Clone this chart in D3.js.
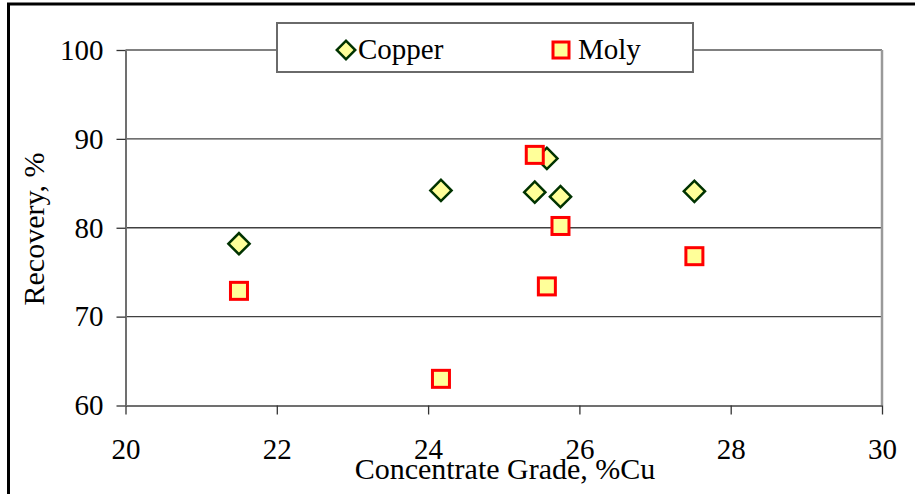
<!DOCTYPE html>
<html>
<head>
<meta charset="utf-8">
<script src="https://cdn.jsdelivr.net/npm/d3@7"></script>
<style>
    body { margin: 0; background: #fff; }
    text { font-family: "Liberation Serif", "Times New Roman", serif; fill: #000; }
</style>
</head>
<body>
<script>
// chart values
var copperGrade = [21.5, 24.17, 25.41, 25.57, 25.75, 27.52];
var copperRecovery = [78.2, 84.2, 84.0, 87.8, 83.5, 84.1];
var molyGrade = [21.5, 24.17, 25.41, 25.57, 25.75, 27.52];
var molyRecovery = [72.9, 63.0, 88.2, 73.4, 80.2, 76.8];
var xTicks = [20, 22, 24, 26, 28, 30];
var yTicks = [60, 70, 80, 90, 100];
var gridTicks = [70, 80, 90];
var legendNames = ["Copper", "Moly"];

var w = 915, h = 494;
var plotL = 125.5, plotR = 882, plotT = 50, plotB = 405.5;

var svg = d3.select("body").append("svg")
    .attr("width", w)
    .attr("height", h);

//Scales
var x_scale = d3.scaleLinear().domain([20, 30]).range([plotL, plotR]);
var y_scale = d3.scaleLinear().domain([60, 100]).range([plotB, plotT]);

//Outer frame
svg.append("rect")
    .attr("x", 8.5).attr("y", 4)
    .attr("width", w + 10).attr("height", h + 10)
    .attr("fill", "none")
    .attr("stroke", "#000")
    .attr("stroke-width", 3);

//Gridlines
svg.append("g").selectAll("line")
    .data(gridTicks)
    .enter().append("line")
    .attr("x1", plotL).attr("x2", plotR)
    .attr("y1", function(d) { return y_scale(d); })
    .attr("y2", function(d) { return y_scale(d); })
    .attr("stroke", "#404040")
    .attr("stroke-width", 1.3);

//Plot border top and right
svg.append("line")
    .attr("x1", plotL).attr("x2", plotR)
    .attr("y1", y_scale(100)).attr("y2", y_scale(100))
    .attr("stroke", "#808080").attr("stroke-width", 2);
svg.append("line")
    .attr("x1", plotR).attr("x2", plotR)
    .attr("y1", y_scale(100)).attr("y2", y_scale(60))
    .attr("stroke", "#9a9a9a").attr("stroke-width", 2.5);

//Axes
var x_axis = d3.axisBottom(x_scale).tickValues(xTicks).tickSize(9).tickSizeOuter(0).tickPadding(24);
var y_axis = d3.axisLeft(y_scale).tickValues(yTicks).tickSize(9).tickSizeOuter(0).tickPadding(13);

var x_group = svg.append("g")
    .attr("transform", "translate(0," + plotB + ")")
    .call(x_axis);
var y_group = svg.append("g")
    .attr("transform", "translate(" + plotL + ",0)")
    .call(y_axis);

[x_group, y_group].forEach(function(g) {
    g.attr("font-size", 29).attr("font-family", "Liberation Serif, Times New Roman, serif");
    g.select(".domain").attr("stroke", "#707070").attr("stroke-width", 2);
    g.selectAll(".tick line").attr("stroke", "#333").attr("stroke-width", 1.3);
    g.selectAll(".tick text").attr("fill", "#000");
});

//Axis titles
svg.append("text")
    .attr("x", 505).attr("y", 479)
    .attr("text-anchor", "middle")
    .attr("font-size", 30)
    .text("Concentrate Grade, %Cu");

svg.append("text")
    .attr("transform", "translate(44,229) rotate(-90)")
    .attr("text-anchor", "middle")
    .attr("font-size", 30)
    .text("Recovery, %");

//Markers
var diamond = d3.symbol().type(d3.symbolSquare).size(225);

var copper = copperGrade.map(function(g, i) { return { x: g, y: copperRecovery[i] }; });
var moly = molyGrade.map(function(g, i) { return { x: g, y: molyRecovery[i] }; });

svg.append("g").selectAll("path")
    .data(copper)
    .enter().append("path")
    .attr("d", diamond)
    .attr("transform", function(d) {
        return "translate(" + x_scale(d.x) + "," + y_scale(d.y) + ") rotate(45)";
    })
    .attr("fill", "#ffff99")
    .attr("stroke", "#003300")
    .attr("stroke-width", 2.5);

svg.append("g").selectAll("rect")
    .data(moly)
    .enter().append("rect")
    .attr("x", function(d) { return x_scale(d.x) - 8.5; })
    .attr("y", function(d) { return y_scale(d.y) - 8.5; })
    .attr("width", 17).attr("height", 17)
    .attr("fill", "#ffff99")
    .attr("stroke", "#ff0000")
    .attr("stroke-width", 3);

//Legend
var legend = svg.append("g");
legend.append("rect")
    .attr("x", 277).attr("y", 23)
    .attr("width", 416).attr("height", 49)
    .attr("fill", "#fff")
    .attr("stroke", "#6a6a6a")
    .attr("stroke-width", 2);

legend.append("path")
    .attr("d", d3.symbol().type(d3.symbolSquare).size(170))
    .attr("transform", "translate(346,50) rotate(45)")
    .attr("fill", "#ffff99")
    .attr("stroke", "#003300")
    .attr("stroke-width", 2.5);
legend.append("rect")
    .attr("x", 553).attr("y", 42)
    .attr("width", 16).attr("height", 16)
    .attr("fill", "#ffff99")
    .attr("stroke", "#ff0000")
    .attr("stroke-width", 3);

legend.selectAll("text")
    .data(legendNames)
    .enter().append("text")
    .attr("x", function(d, i) { return i === 0 ? 358 : 578; })
    .attr("y", 59)
    .attr("font-size", 29)
    .text(function(d) { return d; });
</script>
</body>
</html>
